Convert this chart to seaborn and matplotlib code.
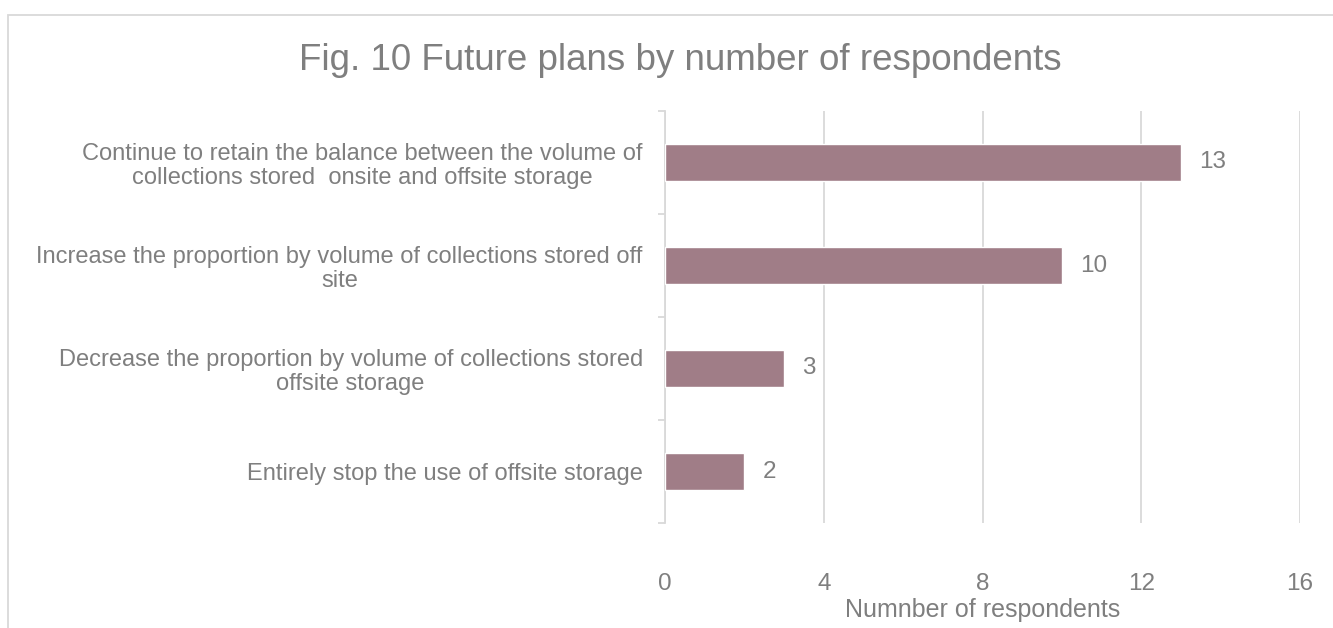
import matplotlib
matplotlib.use("Agg")
import matplotlib.pyplot as plt
from matplotlib.patches import Rectangle
import seaborn as sns
import pandas as pd

categories = [
    "Continue to retain the balance between the volume of\ncollections stored  onsite and offsite storage",
    "Increase the proportion by volume of collections stored off\nsite",
    "Decrease the proportion by volume of collections stored\noffsite storage",
    "Entirely stop the use of offsite storage",
]
respondents = [13, 10, 3, 2]
x_ticks = [0, 4, 8, 12, 16]

title = "Fig. 10 Future plans by number of respondents"
x_label = "Numnber of respondents"

bar_color = "#A07D87"
text_color = "#7F7F7F"
grid_color = "#D9D9D9"

sns.set_theme(style="white")
plt.rcParams["font.family"] = ["Liberation Sans", "DejaVu Sans"]

df = pd.DataFrame({"plan": categories, "count": respondents})

fig = plt.figure(figsize=(13.33, 6.28), dpi=100)
ax = fig.add_axes([665 / 1333, 1 - 523 / 628, 635 / 1333, 412 / 628])

sns.barplot(data=df, y="plan", x="count", orient="h", color=bar_color,
            width=0.36, saturation=1, ax=ax, zorder=3)

ax.set_xlim(0, 16)
ax.set_ylim(3.5, -0.5)
ax.set_xticks(x_ticks)
ax.set_xticklabels([str(t) for t in x_ticks])
ax.xaxis.grid(True, color=grid_color, linewidth=1.3, zorder=0)
ax.yaxis.grid(False)
ax.set_axisbelow(True)

for side in ["top", "right", "bottom"]:
    ax.spines[side].set_visible(False)
ax.spines["left"].set_color(grid_color)
ax.spines["left"].set_linewidth(1.3)

# category boundary ticks on the left spine
ax.set_yticks([i - 0.5 for i in range(len(categories) + 1)], minor=True)
ax.tick_params(axis="y", which="minor", length=5, width=1.3, color=grid_color, direction="out", left=True)
ax.tick_params(axis="y", which="major", length=0, pad=16, labelsize=17, labelcolor=text_color)
ax.tick_params(axis="x", which="both", length=0, pad=36, labelsize=17.5, labelcolor=text_color)
for lbl in ax.get_yticklabels():
    lbl.set_multialignment("center")
    lbl.set_linespacing(1.1)

ax.set_ylabel("")
ax.set_xlabel(x_label, fontsize=18, color=text_color, labelpad=2)

for cont in ax.containers:
    ax.bar_label(cont, labels=[str(v) for v in respondents], padding=13,
                 fontsize=17.5, color=text_color)

fig.text(0.510, 1 - 60 / 628, title, ha="center", va="center",
         fontsize=26.5, color=text_color)

# chart-area frame
fig.patches.append(Rectangle((8 / 1333, -0.05), 1.2, 1 - 15 / 628 + 0.05,
                             transform=fig.transFigure, fill=False,
                             edgecolor=grid_color, linewidth=1.3))

fig.savefig("out.png", dpi=100, facecolor="white")
